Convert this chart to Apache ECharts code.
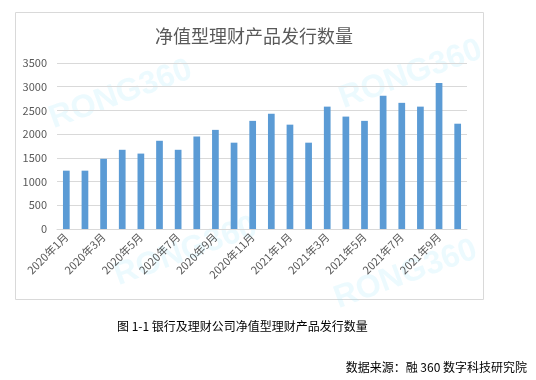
<!DOCTYPE html>
<html><head><meta charset="utf-8">
<script src="https://cdn.jsdelivr.net/npm/echarts@6/dist/echarts.min.js"></script>
<style>html,body{margin:0;padding:0;background:#fff}#c{width:536px;height:380px}</style>
</head><body><div id="c"></div>
<script>
const categories = ['2020年1月','2020年2月','2020年3月','2020年4月','2020年5月','2020年6月','2020年7月','2020年8月','2020年9月','2020年10月','2020年11月','2020年12月','2021年1月','2021年2月','2021年3月','2021年4月','2021年5月','2021年6月','2021年7月','2021年8月','2021年9月','2021年10月'];
const issuance = [1230,1230,1480,1670,1590,1860,1670,1950,2090,1820,2280,2430,2200,1820,2580,2370,2280,2810,2660,2580,3080,2220];
const yTicks = {min:0, max:3500, interval:500};
const titleText = '净值型理财产品发行数量';
const captionText = '图 1-1 银行及理财公司净值型理财产品发行数量';
const sourceText = '数据来源：融 360 数字科技研究院';
const watermark = 'RONG360';

const chart = echarts.init(document.getElementById('c'));
const font = '"Noto Sans CJK SC", "Liberation Sans", sans-serif';
const wm = (x,y)=>({type:'text', x:x, y:y, rotation:0.35, z:-1,
  style:{text:watermark, fill:'rgba(150,228,248,0.18)', font:'bold 32px "Liberation Sans", sans-serif'}});
chart.setOption({
  animation:false,
  title:{text:titleText, left:249, textAlign:'center', top:22,
    textStyle:{color:'#595959', fontSize:18, fontWeight:'normal', fontFamily:font}},
  grid:{left:57, right:69, top:63, bottom:151},
  xAxis:{type:'category', data:categories,
    axisLine:{lineStyle:{color:'#d9d9d9'}},
    axisTick:{interval:1, alignWithLabel:false, lineStyle:{color:'#d9d9d9'}, length:5},
    axisLabel:{interval:1, rotate:45, color:'#595959', fontSize:11, fontFamily:font, margin:6}},
  yAxis:{type:'value', min:yTicks.min, max:yTicks.max, interval:yTicks.interval,
    axisLine:{show:false}, axisTick:{show:false},
    splitLine:{lineStyle:{color:'#d9d9d9'}},
    axisLabel:{color:'#595959', fontSize:11, fontFamily:font, margin:10, formatter:v=>String(v)}},
  series:[{type:'bar', data:issuance, barWidth:'36%', itemStyle:{color:'#5b9bd5'}}],
  graphic:[
    {type:'rect', shape:{x:15.5, y:12.5, width:468, height:287}, style:{fill:'none', stroke:'#d9d9d9', lineWidth:1}, z:-2},
    wm(45,105), wm(335,85), wm(110,262), wm(330,285),
    {type:'text', x:117, y:320, style:{text:captionText, fill:'#000', font:'12px "Noto Sans CJK SC", sans-serif'}},
    {type:'text', x:527, y:361, style:{text:sourceText, fill:'#000', font:'12px "Noto Sans CJK SC", sans-serif', textAlign:'right'}}
  ]
});
</script></body></html>
